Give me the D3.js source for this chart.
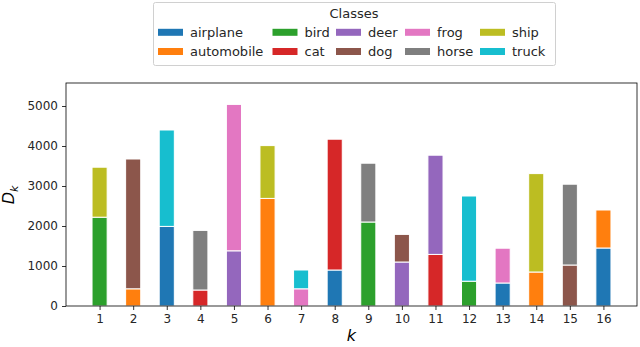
<!DOCTYPE html>
<html>
<head>
<meta charset="utf-8">
<script src="https://cdn.jsdelivr.net/npm/d3@7"></script>
<style>
  body { margin: 0; background: #fff; }
  svg text { font-family: "DejaVu Sans", sans-serif; }
</style>
</head>
<body>
<svg id="Vis" width="640" height="347"></svg>
<script>
var classes = ["airplane","automobile","bird","cat","deer","dog","frog","horse","ship","truck"];
var classColor = ["#1f77b4","#ff7f0e","#2ca02c","#d62728","#9467bd","#8c564b","#e377c2","#7f7f7f","#bcbd22","#17becf"];

var ks = [1,2,3,4,5,6,7,8,9,10,11,12,13,14,15,16];
var bottomClass = ["bird","automobile","airplane","cat","deer","automobile","frog","airplane","bird","deer","cat","bird","airplane","automobile","dog","airplane"];
var bottomVals  = [2220, 430, 1990, 400, 1380, 2690, 430, 900, 2100, 1100, 1290, 620, 575, 850, 1025, 1450];
var topClass    = ["ship","dog","truck","horse","frog","ship","truck","cat","horse","dog","deer","truck","frog","ship","horse","automobile"];
var topVals     = [1250, 3245, 2410, 1490, 3660, 1320, 470, 3270, 1470, 690, 2480, 2130, 870, 2460, 2020, 950];
var yTicks = [0,1000,2000,3000,4000,5000];

var svg = d3.select("#Vis");
var plotL = 66, plotR = 637, plotT = 83, plotB = 306;

var x = d3.scaleLinear().domain([0, 17]).range([plotL, plotR]);
var y = d3.scaleLinear().domain([0, 5575]).range([plotB, plotT]);
var color = d3.scaleOrdinal().domain(classes).range(classColor);
var barW = 0.45;

var segs = [];
ks.forEach(function(k, i){
  segs.push({k:k, cls:bottomClass[i], y0:0, y1:bottomVals[i]});
  segs.push({k:k, cls:topClass[i], y0:bottomVals[i], y1:bottomVals[i]+topVals[i]});
});

svg.append("g").selectAll("rect")
  .data(segs).enter().append("rect")
  .attr("x", function(d){ return x(d.k - barW/2); })
  .attr("width", function(d){ return x(barW) - x(0); })
  .attr("y", function(d){ return y(d.y1); })
  .attr("height", function(d){ return y(d.y0) - y(d.y1); })
  .style("fill", function(d){ return color(d.cls); })
  .attr("stroke", "white")
  .attr("stroke-width", 1);

// frame
svg.append("rect")
  .attr("x", plotL).attr("y", plotT)
  .attr("width", plotR-plotL).attr("height", plotB-plotT)
  .attr("fill", "none").attr("stroke", "#000").attr("stroke-width", 0.8);

var xAxis = svg.append("g")
  .attr("transform", "translate(0," + plotB + ")")
  .call(d3.axisBottom(x).tickValues(ks).tickSize(4).tickPadding(4).tickFormat(d3.format("d")));
var yAxis = svg.append("g")
  .attr("transform", "translate(" + plotL + ",0)")
  .call(d3.axisLeft(y).tickValues(yTicks).tickSize(4).tickPadding(4).tickFormat(d3.format("d")));

[xAxis, yAxis].forEach(function(a){
  a.select(".domain").remove();
  a.selectAll("text").style("font-size", "12px").attr("fill", "#262626");
  a.selectAll("line").attr("stroke", "#000").attr("stroke-width", 0.8);
});

svg.append("text")
  .attr("x", x(8.5)).attr("y", 341)
  .attr("text-anchor", "middle")
  .style("font-size", "16px").style("font-style", "italic")
  .text("k");

var yl = svg.append("text")
  .attr("transform", "translate(14,195) rotate(-90)")
  .attr("text-anchor", "middle")
  .style("font-size", "16px").style("font-style", "italic");
yl.append("tspan").text("D");
yl.append("tspan").attr("dy", 4).style("font-size", "11px").text("k");

// legend
var lg = svg.append("g");
lg.append("rect")
  .attr("x", 153.5).attr("y", 2.5).attr("width", 402).attr("height", 63)
  .attr("rx", 2).attr("fill", "white").attr("stroke", "#d0d0d0");
lg.append("text")
  .attr("x", 354).attr("y", 18)
  .attr("text-anchor", "middle")
  .style("font-size", "13px").attr("fill", "#262626")
  .text("Classes");

var colX = [158, 272.5, 336, 405, 480];
var rowY = [32.3, 51.5];
var item = lg.selectAll("g.item")
  .data(classes).enter().append("g")
  .attr("class", "item")
  .attr("transform", function(d, i){
    return "translate(" + colX[Math.floor(i/2)] + "," + rowY[i%2] + ")";
  });
item.append("rect")
  .attr("x", 0).attr("y", -3.5).attr("width", 25).attr("height", 7)
  .style("fill", function(d){ return color(d); });
item.append("text")
  .attr("x", 32).attr("y", 4.5)
  .style("font-size", "13px").attr("fill", "#262626")
  .text(function(d){ return d; });
</script>
</body>
</html>
